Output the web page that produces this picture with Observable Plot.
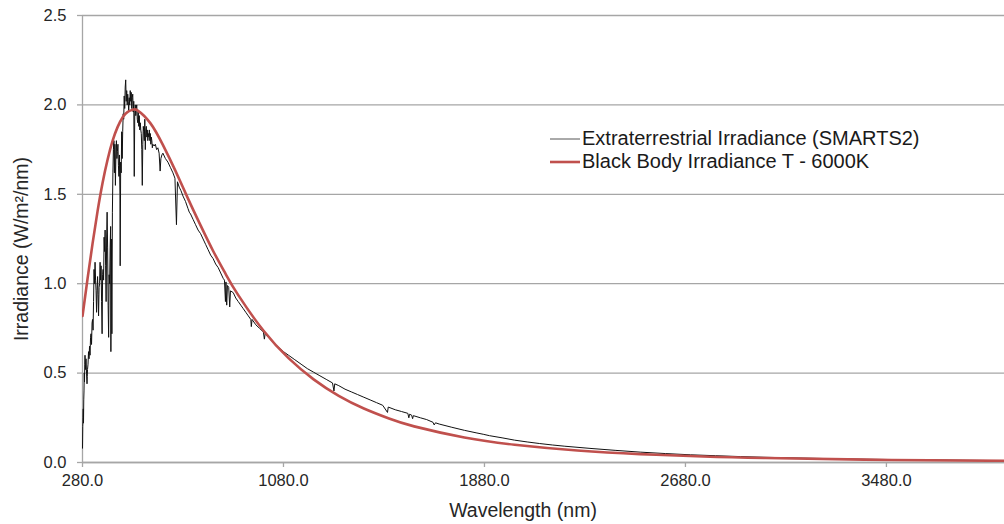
<!DOCTYPE html>
<html>
<head>
<meta charset="utf-8">
<script src="https://cdn.jsdelivr.net/npm/d3@7"></script>
<script src="https://cdn.jsdelivr.net/npm/@observablehq/plot@0.6"></script>
<style>
  html, body { margin: 0; padding: 0; background: #fff; }
  #wrap { position: relative; width: 1004px; height: 524px; font-family: "Liberation Sans", Arial, sans-serif; }
  #legend { position: absolute; left: 550px; top: 127px; font-size: 20px; color: #1a1a1a; line-height: 23px; }
  #legend .row { display: flex; align-items: center; white-space: nowrap; }
  #legend svg { margin-right: 2px; }
</style>
</head>
<body>
<div id="wrap"></div>
<script>
// ---- Data ----
const seriesNames = ["Extraterrestrial Irradiance (SMARTS2)", "Black Body Irradiance T - 6000K"];
const xTicks = [280, 1080, 1880, 2680, 3480];
const yTicks = [0, 0.5, 1.0, 1.5, 2.0, 2.5];

// Extraterrestrial spectrum: wavelength (nm) and irradiance (W/m²/nm)
const etWavelength = [
  280,281,282,283,284,285,286,287,288,289,290,292,294,296,298,299,300,302,304,306,308,310,312,314,316,318,320,322,324,326,328,330,332,334,336,338,340,342,344,346,348,350,352,354,356,358,360,362,364,366,368,370,372,374,376,378,380,382,384,386,388,390,392,393,395,397,399,401,403,405,407,409,411,413,415,417,419,421,423,425,427,429,430,432,434,436,438,440,442,444,446,448,450,452,454,456,458,460,462,464,466,468,470,472,474,476,478,480,482,484,486,488,490,492,494,496,498,500,502,504,506,508,510,512,514,516,518,520,522,524,526,528,530,532,534,536,538,540,542,544,546,548,550,552,554,556,558,560,565,570,575,580,585,589,592,596,600,610,620,630,640,648,654,658,665,672,680,690,700,
  705,710,720,730,740,750,760,770,780,790,800,810,820,830,840,845,849,851,854,857,862,866,869,880,890,900,910,920,930,940,950,952,955,970,985,1000,1004,1007,1020,1040,1060,1080,1100,1125,1150,1175,1200,1225,1250,1275,1281,1284,1300,1325,1350,1375,1400,1425,1450,1475,1494,1497,1525,1550,1575,1579,1582,1590,1594,1597,1625,1650,1675,1680,1685,1700,1750,1800,1850,1875,1900,1950,2000,2050,2100,2150,2200,2300,2400,2500,2600,2700,2800,2900,3000,3200,3400,3600,3800,4000
];
const etIrradiance = [
  0.08,0.20,0.25,0.30,0.22,0.35,0.40,0.50,0.45,0.55,0.60,0.52,0.58,0.50,0.44,0.48,0.52,0.55,0.62,0.58,0.65,0.60,0.70,0.72,0.66,0.78,0.80,0.74,0.90,1.08,1.00,1.12,1.02,0.96,0.84,0.96,1.04,0.94,0.82,0.98,1.00,1.12,1.02,1.10,0.90,0.72,1.05,1.08,1.02,1.26,1.18,1.30,1.10,0.90,1.25,1.40,1.20,0.88,0.70,1.05,1.00,1.20,1.32,0.62,1.25,0.72,1.40,1.62,1.75,1.80,1.62,1.78,1.55,1.72,1.80,1.70,1.74,1.78,1.66,1.60,1.72,1.50,1.10,1.68,1.62,1.85,1.70,1.85,1.95,1.92,2.05,1.98,2.10,2.14,2.02,2.08,2.00,2.06,2.02,1.96,2.04,2.00,2.08,2.02,2.07,1.98,2.04,2.06,1.96,2.02,1.60,1.95,2.00,1.94,1.98,2.00,1.92,1.90,1.96,1.88,1.94,1.86,1.90,1.86,1.84,1.75,1.55,1.78,1.88,1.85,1.80,1.92,1.75,1.86,1.88,1.82,1.86,1.80,1.84,1.82,1.86,1.80,1.84,1.78,1.82,1.80,1.76,1.78,1.77,1.78,1.75,1.76,1.73,1.63,1.70,1.72,1.73,1.70,1.68,1.65,1.62,1.59,1.33,1.57,1.54,1.52,1.49,1.46,1.42,
  1.40,1.39,1.36,1.33,1.30,1.28,1.25,1.22,1.19,1.16,1.14,1.11,1.09,1.06,1.03,1.02,0.90,1.01,0.88,0.99,0.98,0.87,0.96,0.95,0.92,0.90,0.88,0.86,0.84,0.82,0.80,0.76,0.80,0.77,0.75,0.73,0.69,0.72,0.70,0.67,0.645,0.62,0.60,0.575,0.55,0.525,0.505,0.485,0.465,0.445,0.40,0.44,0.43,0.41,0.395,0.38,0.365,0.35,0.335,0.32,0.28,0.31,0.295,0.285,0.275,0.25,0.27,0.265,0.245,0.262,0.25,0.24,0.225,0.21,0.222,0.215,0.197,0.18,0.165,0.158,0.15,0.138,0.125,0.115,0.106,0.098,0.091,0.079,0.068,0.058,0.050,0.043,0.038,0.033,0.029,0.023,0.018,0.015,0.012,0.010
];

// Black body curve (T = 6000 K): wavelength (nm) and irradiance (W/m²/nm)
const bbWavelength = [280,300,320,340,360,380,400,420,440,460,480,500,550,600,650,700,750,800,850,900,1000,1100,1200,1300,1400,1500,1600,1800,2000,2250,2500,2750,3000,3500,4000];
const bbIrradiance = [0.819,1.027,1.224,1.406,1.565,1.695,1.800,1.877,1.931,1.961,1.973,1.968,1.898,1.776,1.631,1.476,1.326,1.183,1.054,0.936,0.738,0.584,0.465,0.373,0.302,0.246,0.202,0.140,0.0995,0.0673,0.0470,0.0337,0.0248,0.0143,0.0088];

const et = etWavelength.map((w, i) => ({w, v: etIrradiance[i]}));
const bb = bbWavelength.map((w, i) => ({w, v: bbIrradiance[i]}));

const gridColor = "#a6a6a6";
const textColor = "#262626";

const chart = Plot.plot({
  width: 1004,
  height: 524,
  marginLeft: 82,
  marginRight: 0,
  marginTop: 15,
  marginBottom: 62,
  style: {fontFamily: "'Liberation Sans', Arial, sans-serif", fontSize: "16.5px", background: "#fff", overflow: "visible"},
  x: {domain: [280, 3950]},
  y: {domain: [0, 2.5]},
  marks: [
    Plot.gridY(yTicks, {stroke: gridColor, strokeOpacity: 1, strokeWidth: 1.3}),
    Plot.ruleY([0], {stroke: gridColor, strokeWidth: 1.3}),
    Plot.ruleX([280], {stroke: gridColor, strokeWidth: 1.3}),
    Plot.axisY(yTicks, {tickFormat: d3.format(".1f"), tickSize: 5, tickPadding: 11, stroke: gridColor, strokeWidth: 1.3, fill: textColor, label: null, fontSize: 16.5}),
    Plot.axisX(xTicks, {tickFormat: d3.format(".1f"), tickSize: 5, tickPadding: 7, stroke: gridColor, strokeWidth: 1.3, fill: textColor, label: null, fontSize: 16.5}),
    Plot.line(et, {x: "w", y: "v", stroke: "#111", strokeWidth: 1, clip: true}),
    Plot.line(bb, {x: "w", y: "v", stroke: "#c0504d", strokeWidth: 2.6, curve: "natural", clip: true})
  ]
});

const wrap = document.getElementById("wrap");
wrap.appendChild(chart);

// axis titles
const svg = d3.select(chart);
svg.append("text")
  .attr("x", 523).attr("y", 517)
  .attr("text-anchor", "middle")
  .attr("fill", textColor)
  .style("font-size", "19.5px")
  .text("Wavelength (nm)");
svg.append("text")
  .attr("transform", "translate(28,249) rotate(-90)")
  .attr("text-anchor", "middle")
  .attr("fill", textColor)
  .style("font-size", "19.5px")
  .text("Irradiance (W/m²/nm)");

// legend
const legend = document.createElement("div");
legend.id = "legend";
const legendStyles = [{stroke: "#555", width: 1}, {stroke: "#c0504d", width: 2.6}];
seriesNames.forEach((name, i) => {
  const row = document.createElement("div");
  row.className = "row";
  row.innerHTML = `<svg width="30" height="10"><line x1="0" x2="30" y1="5" y2="5" stroke="${legendStyles[i].stroke}" stroke-width="${legendStyles[i].width}"/></svg><span>${name}</span>`;
  legend.appendChild(row);
});
wrap.appendChild(legend);
</script>
</body>
</html>
